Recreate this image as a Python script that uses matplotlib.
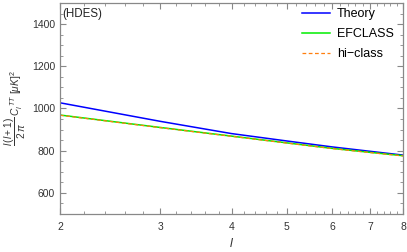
import matplotlib
matplotlib.use("Agg")
import matplotlib.pyplot as plt
from matplotlib.ticker import FixedLocator, NullFormatter

plt.rcParams["font.family"] = ["Liberation Sans", "DejaVu Sans"]
plt.rcParams["mathtext.fontset"] = "custom"
plt.rcParams["mathtext.rm"] = "Liberation Sans"
plt.rcParams["mathtext.it"] = "Liberation Sans:italic"
plt.rcParams["mathtext.bf"] = "Liberation Sans:bold"

# multipoles and spectra
ell = [2, 3, 4, 5, 6, 7, 8]
theory = [1027, 939, 881, 846, 818, 797, 779]
efclass = [969, 910, 869, 837, 811, 792, 776]
hiclass = [968, 909, 868, 836, 810, 791, 775]

xticks = [2, 3, 4, 5, 6, 7, 8]
yticks = [600, 800, 1000, 1200, 1400]

fig = plt.figure(figsize=(4.07, 2.52), dpi=100)
ax = fig.add_axes([0.1474, 0.151, 0.843, 0.837])

ax.plot(ell, theory, color="#0000ff", lw=1.1, label="Theory")
ax.plot(ell, efclass, color="#00ee00", lw=1.1, label="EFCLASS")
ax.plot(ell, hiclass, color="#ff7f0e", lw=0.9, ls=(0, (3, 2)), label="hi\u2212class")

ax.set_xscale("log")
ax.set_xlim(2, 8)
ax.set_ylim(500, 1500)

ax.xaxis.set_major_locator(FixedLocator(xticks))
ax.set_xticklabels([str(t) for t in xticks])
minor_x = [x / 10 for x in range(21, 80) if x % 10 != 0 and x % 2 == 0]
ax.xaxis.set_minor_locator(FixedLocator(minor_x))
ax.xaxis.set_minor_formatter(NullFormatter())
ax.yaxis.set_major_locator(FixedLocator(yticks))
ax.yaxis.set_minor_locator(FixedLocator([y for y in range(550, 1500, 50) if y not in yticks]))

gray = "#888888"
for s in ax.spines.values():
    s.set_color(gray)
    s.set_linewidth(0.9)
ax.tick_params(which="both", direction="in", top=True, right=True, color=gray,
               labelcolor="#333333", labelsize=7.5)
ax.tick_params(which="major", length=4, width=0.8)
ax.tick_params(which="minor", length=2, width=0.6)
ax.tick_params(axis="x", pad=6)

ax.set_xlabel(r"$l$", fontsize=9, color="#333333")
ax.xaxis.set_label_coords(0.5, -0.11)
ax.set_ylabel(r"$\dfrac{l\,(l+1)}{2\,\pi}\,C_l^{\ TT}\ [\mu K]^2$", fontsize=7.3,
              color="#333333")
ax.yaxis.set_label_coords(-0.094, 0.5)

ax.text(0.008, 0.948, "(HDES)", transform=ax.transAxes, fontsize=8.3,
        ha="left", va="center", color="#222222")

leg = ax.legend(loc="upper right", frameon=False, fontsize=9, handlelength=2.25,
                handletextpad=0.55, labelspacing=0.62, borderaxespad=0.2,
                bbox_to_anchor=(0.995, 1.01))

fig.savefig("out.png", dpi=100)
